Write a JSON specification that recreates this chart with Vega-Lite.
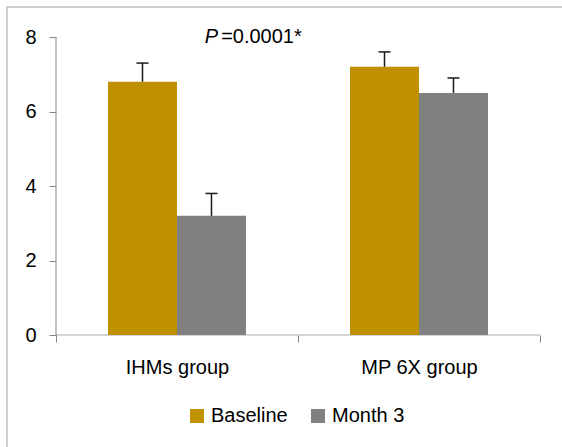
{
  "$schema": "https://vega.github.io/schema/vega-lite/v6.json",
  "width": 555,
  "height": 440,
  "autosize": {"type": "none"},
  "padding": {"left": 7, "top": 7, "right": 0, "bottom": 0},
  "background": "white",
  "config": {
    "view": {"stroke": "#c0c0c0", "strokeWidth": 1.5, "strokeDash": [555, 995, 440]},
    "font": "Liberation Sans",
    "axis": {"labelFont": "Liberation Sans", "labelColor": "#000000", "grid": false}
  },
  "data": {
    "values": [
      {"group": "IHMs group", "series": "Baseline", "value": 6.8, "upper": 7.3},
      {"group": "IHMs group", "series": "Month 3", "value": 3.2, "upper": 3.8},
      {"group": "MP 6X group", "series": "Baseline", "value": 7.2, "upper": 7.6},
      {"group": "MP 6X group", "series": "Month 3", "value": 6.5, "upper": 6.9}
    ]
  },
  "encoding": {
    "x": {
      "field": "group", "type": "nominal",
      "scale": {"domain": ["IHMs group", "MP 6X group"], "paddingInner": 0, "paddingOuter": 0.1467, "align": 0.69},
      "axis": {
        "title": null, "orient": "bottom", "offset": -112, "domain": false,
        "tickBand": "extent", "tickSize": 7, "tickColor": "#868686", "tickWidth": 1,
        "labelFontSize": 20, "labelPadding": 15, "labelAngle": 0
      }
    },
    "y": {
      "type": "quantitative",
      "scale": {"domain": [-3.0067, 8.8054], "nice": false, "zero": false},
      "axis": {
        "title": null, "orient": "left", "offset": -49, "domain": false,
        "values": [0, 2, 4, 6, 8], "tickSize": 7, "tickColor": "#868686", "tickWidth": 1,
        "labelFontSize": 20, "labelPadding": 13
      }
    }
  },
  "layer": [
    {
      "transform": [{"filter": "datum.series === 'Baseline'"}],
      "mark": {"type": "tick", "size": 242, "thickness": 1, "color": "#868686"},
      "encoding": {
        "y": {"datum": 0, "type": "quantitative"}
      }
    },
    {
      "data": {"values": [{"label": "axis"}]},
      "mark": {"type": "rule", "color": "#868686", "strokeWidth": 1},
      "encoding": {
        "x": {"datum": "IHMs group", "type": "nominal", "bandPosition": 0},
        "y": {"datum": 0, "type": "quantitative"},
        "y2": {"datum": 8}
      }
    },
    {
      "mark": {"type": "bar"},
      "encoding": {
        "xOffset": {"field": "series", "type": "nominal", "scale": {"paddingInner": 0, "paddingOuter": 0.754}},
        "y": {"field": "value", "type": "quantitative"},
        "y2": {"datum": 0},
        "color": {
          "field": "series", "type": "nominal",
          "scale": {"domain": ["Baseline", "Month 3"], "range": ["#BF9000", "#808080"]},
          "legend": {
            "title": null, "orient": "none", "direction": "horizontal",
            "legendX": 180, "legendY": 399, "padding": 0,
            "symbolType": "square", "symbolSize": 196, "symbolStrokeWidth": 0,
            "labelFontSize": 20, "labelFont": "Liberation Sans", "labelColor": "#000000",
            "labelOffset": 4, "columnPadding": 20
          }
        }
      }
    },
    {
      "mark": {"type": "rule", "color": "#1a1a1a", "strokeWidth": 1.5},
      "encoding": {
        "xOffset": {"field": "series", "type": "nominal"},
        "y": {"field": "value", "type": "quantitative"},
        "y2": {"field": "upper"}
      }
    },
    {
      "mark": {"type": "point", "shape": "stroke", "size": 144, "filled": false, "color": "#1a1a1a", "strokeWidth": 1.5, "opacity": 1},
      "encoding": {
        "xOffset": {"field": "series", "type": "nominal"},
        "y": {"field": "upper", "type": "quantitative"}
      }
    },
    {
      "data": {"values": [{"label": "P"}]},
      "mark": {"type": "text", "fontStyle": "italic", "fontWeight": "normal", "fontSize": 20, "align": "right", "baseline": "middle", "color": "#000000", "dx": 0},
      "encoding": {
        "text": {"field": "label"},
        "x": {"datum": "IHMs group", "type": "nominal", "bandPosition": 0.67},
        "y": {"datum": 8, "type": "quantitative"}
      }
    },
    {
      "data": {"values": [{"label": "=0.0001*"}]},
      "mark": {"type": "text", "fontWeight": "normal", "fontSize": 20, "align": "left", "baseline": "middle", "color": "#000000", "dx": 3},
      "encoding": {
        "text": {"field": "label"},
        "x": {"datum": "IHMs group", "type": "nominal", "bandPosition": 0.67},
        "y": {"datum": 8, "type": "quantitative"}
      }
    }
  ]
}
